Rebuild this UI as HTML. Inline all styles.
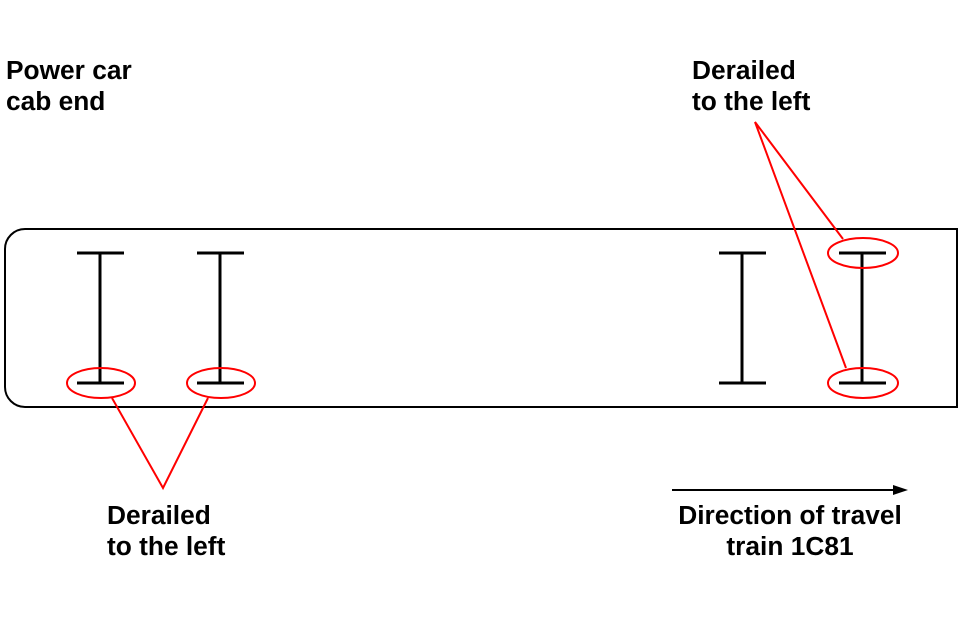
<!DOCTYPE html>
<html><head><meta charset="utf-8"><style>
html,body{margin:0;padding:0;background:#fff;}
svg{display:block;}
text{font-family:"Liberation Sans",Arial,sans-serif;font-weight:bold;font-size:26.3px;fill:#000;}
</style></head><body>
<svg width="960" height="640" viewBox="0 0 960 640" xmlns="http://www.w3.org/2000/svg">
<path d="M25,229 H957 V407 H25 A20,20 0 0 1 5,387 V249 A20,20 0 0 1 25,229 Z" fill="none" stroke="#000" stroke-width="2"/>
<g stroke="#000" stroke-width="3" fill="none">
<path d="M77,253H124M100,253V383M77,383H124"/>
<path d="M197,253H244M220,253V383M197,383H244"/>
<path d="M719,253H766M742,253V383M719,383H766"/>
<path d="M839,253H886M862,253V383M839,383H886"/>
</g>
<g stroke="#f00" stroke-width="2" fill="none">
<ellipse cx="101" cy="383" rx="34" ry="15"/>
<ellipse cx="221" cy="383" rx="34" ry="15"/>
<ellipse cx="863" cy="253" rx="35" ry="15"/>
<ellipse cx="863" cy="383" rx="35" ry="15"/>
<path d="M112,398 L163,488 L208,398"/>
<path d="M843,239 L755,122 L846,368"/>
</g>
<line x1="672" y1="490" x2="895" y2="490" stroke="#000" stroke-width="2"/>
<polygon points="908,490 893,485 893,495" fill="#000"/>
<text x="6" y="79">Power car</text>
<text x="6" y="110">cab end</text>
<text x="692" y="79">Derailed</text>
<text x="692" y="110">to the left</text>
<text x="107" y="524">Derailed</text>
<text x="107" y="555">to the left</text>
<text x="790" y="524" text-anchor="middle">Direction of travel</text>
<text x="790" y="555" text-anchor="middle">train 1C81</text>
</svg>
</body></html>
